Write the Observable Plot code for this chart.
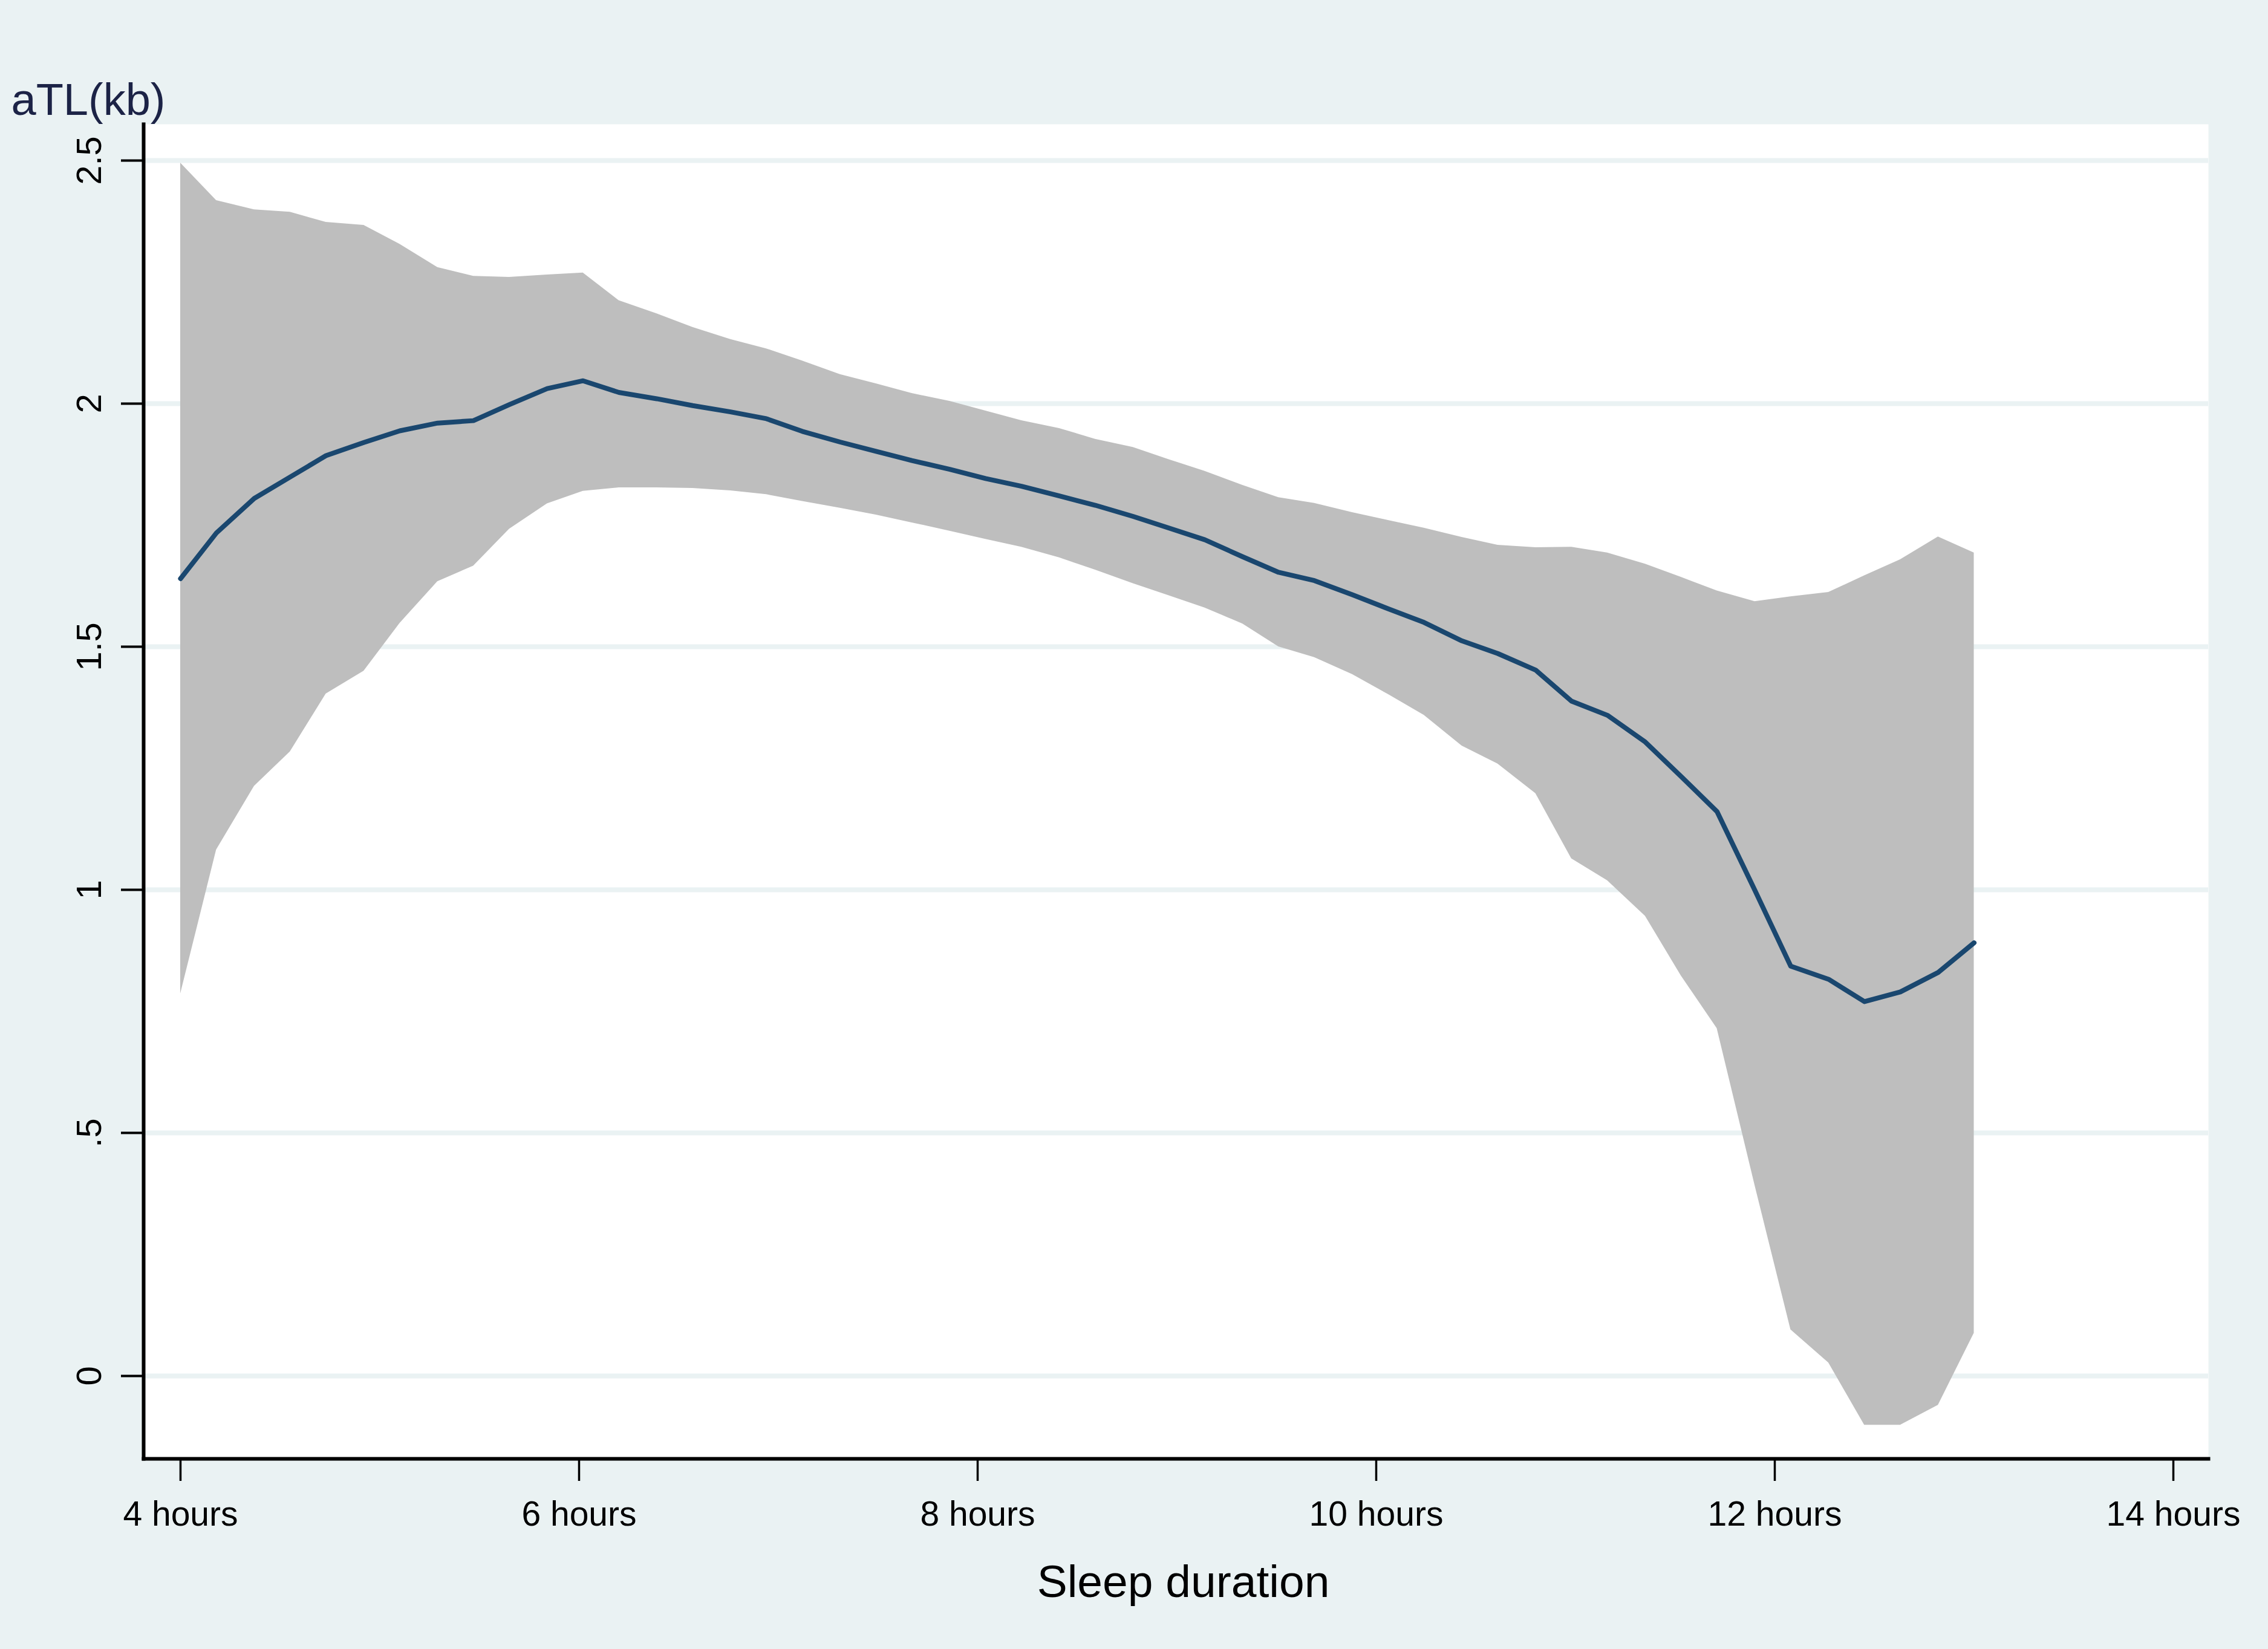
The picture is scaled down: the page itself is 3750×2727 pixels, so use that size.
<!DOCTYPE html>
<html>
<head>
<meta charset="utf-8">
<script src="https://cdn.jsdelivr.net/npm/d3@7"></script>
<script src="https://cdn.jsdelivr.net/npm/@observablehq/plot@0.6"></script>
<style>
  html, body { margin: 0; padding: 0; background: #eaf2f3; }
  #chart svg { display: block; }
</style>
</head>
<body>
<div id="chart"></div>
<script>
// Sleep duration grid (hours)
const hours = [4.00, 4.18, 4.37, 4.55, 4.73, 4.92, 5.10, 5.29, 5.47, 5.65,
               5.84, 6.02, 6.20, 6.39, 6.57, 6.76, 6.94, 7.12, 7.31, 7.49,
               7.67, 7.86, 8.04, 8.22, 8.41, 8.59, 8.78, 8.96, 9.14, 9.33,
               9.51, 9.69, 9.88, 10.06, 10.24, 10.43, 10.61, 10.80, 10.98, 11.16,
               11.35, 11.53, 11.71, 11.90, 12.08, 12.27, 12.45, 12.63, 12.82, 13.00];
// Fitted aTL (kb)
const fit = [1.640, 1.734, 1.805, 1.849, 1.893, 1.920, 1.944, 1.960, 1.965, 1.998,
             2.031, 2.047, 2.023, 2.010, 1.996, 1.983, 1.969, 1.943, 1.921, 1.902,
             1.883, 1.865, 1.846, 1.830, 1.810, 1.791, 1.768, 1.744, 1.720, 1.685,
             1.653, 1.636, 1.607, 1.578, 1.550, 1.512, 1.486, 1.452, 1.388, 1.359,
             1.304, 1.233, 1.161, 0.999, 0.843, 0.816, 0.770, 0.790, 0.830, 0.891];
// Upper confidence bound
const upper = [2.495, 2.418, 2.399, 2.394, 2.373, 2.367, 2.328, 2.280, 2.262, 2.260,
               2.265, 2.269, 2.212, 2.185, 2.157, 2.132, 2.113, 2.088, 2.060, 2.041,
               2.021, 2.005, 1.985, 1.965, 1.949, 1.927, 1.910, 1.885, 1.861, 1.832,
               1.807, 1.795, 1.776, 1.760, 1.744, 1.725, 1.709, 1.704, 1.705, 1.693,
               1.670, 1.643, 1.615, 1.593, 1.603, 1.612, 1.646, 1.679, 1.726, 1.693];
// Lower confidence bound
const lower = [0.786, 1.082, 1.213, 1.284, 1.403, 1.450, 1.548, 1.634, 1.666, 1.742,
               1.794, 1.820, 1.827, 1.827, 1.826, 1.821, 1.813, 1.799, 1.785, 1.771,
               1.755, 1.738, 1.721, 1.705, 1.683, 1.658, 1.630, 1.605, 1.580, 1.547,
               1.500, 1.478, 1.443, 1.402, 1.359, 1.296, 1.259, 1.198, 1.064, 1.019,
               0.946, 0.823, 0.715, 0.392, 0.095, 0.027, -0.101, -0.101, -0.060, 0.088];

const yTicks = [0, 0.5, 1, 1.5, 2, 2.5];
const yTickLabels = ["0", ".5", "1", "1.5", "2", "2.5"];
const xTicks = [4, 6, 8, 10, 12, 14];
const xTickLabels = ["4 hours", "6 hours", "8 hours", "10 hours", "12 hours", "14 hours"];
const yTitle = "aTL(kb)";
const xTitle = "Sleep duration";

const table = hours.map((h, i) => ({hours: h, fit: fit[i], lo: lower[i], hi: upper[i]}));

const chart = Plot.plot({
  width: 3750,
  height: 2727,
  marginLeft: 237,
  marginRight: 99,
  marginTop: 205,
  marginBottom: 315,
  style: {background: "#eaf2f3", fontFamily: "'Liberation Sans', Arial, sans-serif", color: "black"},
  x: {domain: [3.815, 14.176]},
  y: {domain: [-0.1704, 2.5746]},
  marks: [
    Plot.frame({fill: "white", stroke: null}),
    Plot.ruleY(yTicks, {stroke: "#eaf2f3", strokeWidth: 8}),
    Plot.areaY(table, {x: "hours", y1: "lo", y2: "hi", fill: "#bebebe", curve: "linear"}),
    Plot.lineY(table, {x: "hours", y: "fit", stroke: "#1a476f", strokeWidth: 8, curve: "linear"}),
    Plot.axisY({ticks: yTicks, tickFormat: d => yTickLabels[yTicks.indexOf(d)], tickSize: 37, tickPadding: 34,
                tickRotate: -90, fontSize: 58, strokeWidth: 4, label: null}),
    Plot.text([yTitle], {frameAnchor: "top-left", dx: -219, dy: -16, lineAnchor: "bottom", textAnchor: "start",
                         fontSize: 74, fill: "#1c2346"}),
    Plot.axisX({ticks: xTicks, tickFormat: d => xTickLabels[xTicks.indexOf(d)], tickSize: 37, tickPadding: 33,
                fontSize: 57, strokeWidth: 3.5, label: null}),
    Plot.text([xTitle], {frameAnchor: "bottom", dx: 12, dy: 228, lineAnchor: "bottom", textAnchor: "middle",
                         fontSize: 75, fill: "black"}),
    Plot.frame({anchor: "left", stroke: "black", strokeWidth: 6}),
    Plot.frame({anchor: "bottom", stroke: "black", strokeWidth: 6})
  ]
});
document.getElementById("chart").append(chart);
</script>
</body>
</html>
